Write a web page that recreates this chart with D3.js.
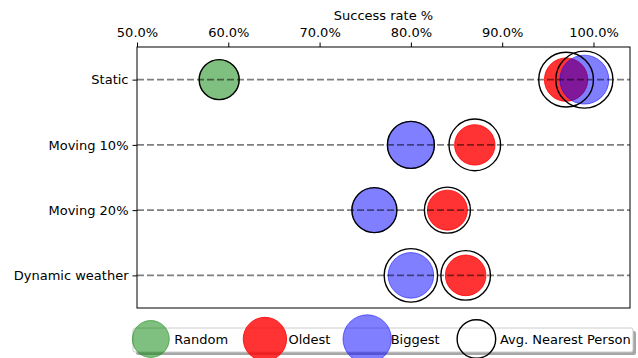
<!DOCTYPE html>
<html>
<head>
<meta charset="utf-8">
<script src="https://cdn.jsdelivr.net/npm/d3@7"></script>
<style>
  html, body { margin: 0; padding: 0; background: #fff; }
  svg { display: block; font-family: "DejaVu Sans", sans-serif; }
</style>
</head>
<body>
<svg id="chart" width="638" height="358"></svg>
<script>
// ---- data ----
const categories = ["Static", "Moving 10%", "Moving 20%", "Dynamic weather"];
const xTicks = [50, 60, 70, 80, 90, 100];
const xDomain = [50, 104];
const axisTitle = "Success rate %";

const randomRate  = [59, null, null, null];
const oldestRate  = [97, 87, 84, 86];
const biggestRate = [99, 80, 76, 80];

// marker areas (size encoding)
const randomSize  = [400, null, null, null];
const oldestSize  = [470, 408, 400, 412];
const biggestSize = [600, 552, 506, 520];

// avg. nearest person marker areas (hollow rings)
const randomNearest  = [400, null, null, null];
const oldestNearest  = [750, 666, 529, 615];
const biggestNearest = [815, 552, 506, 713];

const legendLabels = ["Random", "Oldest", "Biggest", "Avg. Nearest Person"];
const legendSizes  = [342, 471, 586, 372];

// ---- layout ----
const W = 638, H = 358;
const plot = { left: 137, right: 630, top: 47, bottom: 308 };
const svg = d3.select("#chart");
svg.append("rect").attr("width", W).attr("height", H).attr("fill", "#fff");

const x = d3.scaleLinear().domain(xDomain).range([plot.left, plot.right]);
const y = d3.scalePoint().domain(categories).range([plot.top, plot.bottom]).padding(0.5);
const r = d3.scaleSqrt().domain([0, 400]).range([0, 20]);

const series = [
  { name: "Random",  rate: randomRate,  size: randomSize,  near: randomNearest,  color: "green", op: 0.5 },
  { name: "Oldest",  rate: oldestRate,  size: oldestSize,  near: oldestNearest,  color: "red",   op: 0.8 },
  { name: "Biggest", rate: biggestRate, size: biggestSize, near: biggestNearest, color: "blue",  op: 0.5 }
];

// filled markers
series.forEach(s => {
  const pts = categories.map((c, i) => ({ c, v: s.rate[i], a: s.size[i] })).filter(d => d.v != null);
  svg.append("g").selectAll("circle").data(pts).join("circle")
    .attr("cx", d => x(d.v)).attr("cy", d => y(d.c)).attr("r", d => r(d.a))
    .attr("fill", s.color).attr("fill-opacity", s.op)
    .attr("stroke", s.color).attr("stroke-opacity", s.op).attr("stroke-width", 1);
});

// hollow rings (avg nearest person)
series.forEach(s => {
  const pts = categories.map((c, i) => ({ c, v: s.rate[i], a: s.near[i] })).filter(d => d.v != null && d.a != null);
  svg.append("g").selectAll("circle").data(pts).join("circle")
    .attr("cx", d => x(d.v)).attr("cy", d => y(d.c)).attr("r", d => r(d.a))
    .attr("fill", "none").attr("stroke", "#000").attr("stroke-width", 1.4);
});

// dashed row lines
svg.append("g").selectAll("line").data(categories).join("line")
  .attr("x1", plot.left).attr("x2", plot.right)
  .attr("y1", d => y(d)).attr("y2", d => y(d))
  .attr("stroke", "#000").attr("stroke-opacity", 0.5)
  .attr("stroke-width", 1.8).attr("stroke-dasharray", "7,3");

// frame
svg.append("rect")
  .attr("x", plot.left).attr("y", plot.top)
  .attr("width", plot.right - plot.left).attr("height", plot.bottom - plot.top)
  .attr("fill", "none").attr("stroke", "#000").attr("stroke-width", 1);

// top axis
const xAxis = d3.axisTop(x).tickValues(xTicks).tickFormat(d => d.toFixed(1) + "%")
  .tickSize(4.5).tickPadding(6);
const gx = svg.append("g").attr("transform", `translate(0,${plot.top})`).call(xAxis);
gx.select(".domain").remove();
gx.selectAll("text").attr("font-size", 13).attr("font-family", "DejaVu Sans").attr("fill", "#000");
gx.selectAll("line").attr("stroke", "#000");

svg.append("text")
  .attr("x", (plot.left + plot.right) / 2).attr("y", 20)
  .attr("text-anchor", "middle").attr("font-size", 13).attr("fill", "#000")
  .text(axisTitle);

// left axis
const yAxis = d3.axisLeft(y).tickSize(4.5).tickPadding(4);
const gy = svg.append("g").attr("transform", `translate(${plot.left},0)`).call(yAxis);
gy.select(".domain").remove();
gy.selectAll("text").attr("font-size", 13).attr("font-family", "DejaVu Sans").attr("fill", "#000");
gy.selectAll("line").attr("stroke", "#000");

// legend
const leg = svg.append("g");
const legBox = { x: 133, y: 328, w: 500, h: 24 };
leg.append("rect").attr("x", legBox.x + 3).attr("y", legBox.y + 3)
  .attr("width", legBox.w).attr("height", legBox.h).attr("rx", 2)
  .attr("fill", "#4d4d4d").attr("fill-opacity", 0.5);
leg.append("rect").attr("x", legBox.x).attr("y", legBox.y)
  .attr("width", legBox.w).attr("height", legBox.h).attr("rx", 2)
  .attr("fill", "#fff").attr("stroke", "#ccc").attr("stroke-width", 1);

const legColors = [
  { fill: "green", op: 0.5 }, { fill: "red", op: 0.8 }, { fill: "blue", op: 0.5 }, { fill: "none", op: 1 }
];
let cx = 150.8;
const cy = 339;
legendLabels.forEach((lab, i) => {
  const c = legColors[i];
  const circ = leg.append("circle").attr("cx", cx).attr("cy", cy).attr("r", r(legendSizes[i]));
  if (c.fill === "none") {
    circ.attr("fill", "none").attr("stroke", "#000").attr("stroke-width", 1.4);
  } else {
    circ.attr("fill", c.fill).attr("fill-opacity", c.op)
      .attr("stroke", c.fill).attr("stroke-opacity", c.op).attr("stroke-width", 1);
  }
  const t = leg.append("text").attr("x", cx + 23.5).attr("y", cy + 5)
    .attr("font-size", 13).attr("fill", "#000").text(lab);
  cx = cx + 23.5 + t.node().getComputedTextLength() + 36.8;
});
</script>
</body>
</html>
